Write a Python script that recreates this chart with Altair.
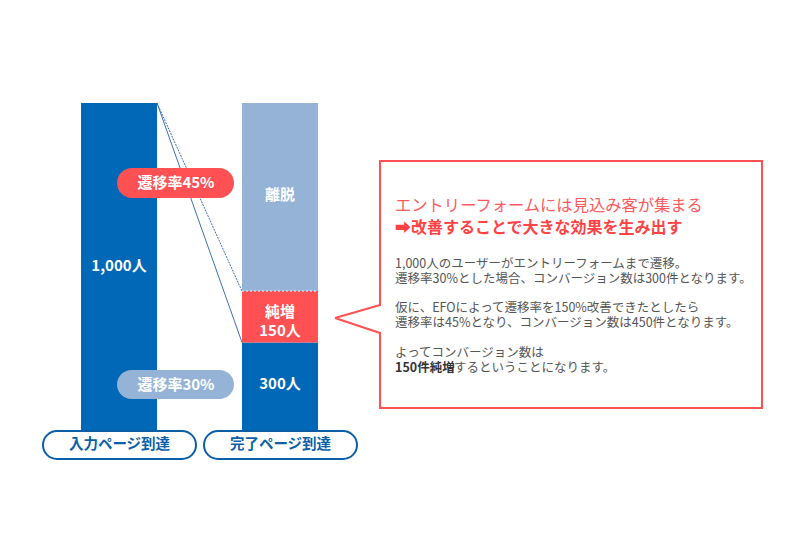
import altair as alt
import pandas as pd

# ---- data ----
categories = ["入力ページ到達", "完了ページ到達"]
segments = ["到達", "純増", "離脱"]
seg_category = ["入力ページ到達", "完了ページ到達", "完了ページ到達", "完了ページ到達"]
seg_name = ["到達", "到達", "純増", "離脱"]
seg_value = [1000, 300, 150, 550]
seg_order = [0, 0, 1, 2]

bar_labels = ["1,000人", "離脱", "純増\n150人", "300人"]
rate_labels = ["遷移率45%", "遷移率30%"]
title_lines = ["エントリーフォームには見込み客が集まる", "➡改善することで大きな効果を生み出す"]
body_lines = [
    "1,000人のユーザーがエントリーフォームまで遷移。",
    "遷移率30%とした場合、コンバージョン数は300件となります。",
    "仮に、EFOによって遷移率を150%改善できたとしたら",
    "遷移率は45%となり、コンバージョン数は450件となります。",
    "よってコンバージョン数は",
]
last_bold = "150件純増"
last_rest = "するということになります。"

DARK = "#0068b7"
LIGHT = "#95b3d7"
RED = "#ff5053"
NAVY = "#0b5fa9"
GRAY = "#555555"
FONT = "Noto Sans CJK JP"

df = pd.DataFrame({"cat": seg_category, "seg": seg_name, "value": seg_value, "ord": seg_order})

xs = alt.X("cat:N", scale=alt.Scale(domain=categories, range=[81, 318], paddingInner=0.528, paddingOuter=0), axis=None)
ysc = alt.Scale(domain=[0, 1000], range=[445, 103])

bars = alt.Chart(df).mark_bar().encode(
    x=xs,
    y=alt.Y("value:Q", stack="zero", scale=ysc, axis=None),
    color=alt.Color("seg:N", scale=alt.Scale(domain=segments, range=[DARK, RED, LIGHT]), legend=None),
    order=alt.Order("ord:Q"),
)

one = alt.Data(values=[{"a": 1}])

def rule(x1, x2, y1, y2, color, width=1.0, dash=None):
    kw = dict(color=color, strokeWidth=width)
    if dash:
        kw["strokeDash"] = dash
    return alt.Chart(one).mark_rule(**kw).encode(x=x1, x2=x2, y=y1, y2=y2)

line_dotted = rule(alt.value(157), alt.value(242), alt.datum(1000), alt.datum(450), "#3f6fae", 1, [2, 1])
line_solid = rule(alt.value(157), alt.value(242), alt.datum(1000), alt.datum(300), "#3f6fae", 1)
boundary = rule(alt.value(242), alt.value(317), alt.datum(450), alt.datum(450), "white", 1, [2, 2])

def rect(x1, x2, y1, y2, **kw):
    return alt.Chart(one).mark_rect(**kw).encode(
        x=alt.value(x1), x2=alt.value(x2), y=alt.value(y1), y2=alt.value(y2))

def text(t, x, y, size, color, weight="normal", align="center", **kw):
    return alt.Chart(one).mark_text(
        text=t, font=FONT, fontSize=size, color=color, fontWeight=weight,
        align=align, baseline="middle", **kw
    ).encode(x=x, y=alt.value(y))

pill45 = rect(117, 234, 168, 198, fill=RED, cornerRadius=15)
pill30 = rect(117, 234, 370, 399, fill=LIGHT, cornerRadius=15)
t45 = text(rate_labels[0], alt.value(176), 183, 15, "white", "bold")
t30 = text(rate_labels[1], alt.value(176), 385, 15, "white", "bold")

bottom1 = rect(43, 196, 431, 459, fill="white", stroke=NAVY, strokeWidth=2, cornerRadius=14)
bottom2 = rect(204, 357, 431, 459, fill="white", stroke=NAVY, strokeWidth=2, cornerRadius=14)
bt1 = text(categories[0], alt.value(119.5), 445, 14.5, NAVY, "bold")
bt2 = text(categories[1], alt.value(280.5), 445, 14.5, NAVY, "bold")

def bar_label(t, cat, y):
    return alt.Chart(alt.Data(values=[{"cat": cat}])).mark_text(
        text=t, font=FONT, fontSize=15, color="white", fontWeight="bold",
        align="center", baseline="middle", lineBreak="\n", lineHeight=19
    ).encode(x=alt.X("cat:N", axis=None), y=alt.value(y))

l1 = bar_label(bar_labels[0], categories[0], 266)
l2 = bar_label(bar_labels[1], categories[1], 195)
l3 = bar_label(bar_labels[2], categories[1], 312)
l4 = bar_label(bar_labels[3], categories[1], 384)

box = rect(380, 762, 161, 408, fill="white", stroke=RED, strokeWidth=2)
gap = rule(alt.value(380), alt.value(380), alt.value(306), alt.value(332), "white", 4)
ptr1 = rule(alt.value(380), alt.value(335), alt.value(305), alt.value(318), RED, 2)
ptr2 = rule(alt.value(335), alt.value(380), alt.value(318), alt.value(333), RED, 2)

tt1 = text(title_lines[0], alt.value(395), 206, 16.3, "#ff5a5d", "normal", "left")
tt2 = text(title_lines[1], alt.value(395), 228, 16, "#ff4245", "bold", "left")
body_y = [264, 279, 308, 323, 353]
body = [text(s, alt.value(395), y, 12.5, GRAY, "normal", "left") for s, y in zip(body_lines, body_y)]
lb = text(last_bold, alt.value(395), 368, 12.5, "#333333", "bold", "left")
lr = text(last_rest, alt.value(454), 368, 12.5, GRAY, "normal", "left")

chart = alt.layer(
    bars, line_dotted, line_solid, boundary,
    pill45, pill30, t45, t30,
    l1, l2, l3, l4,
    bottom1, bottom2, bt1, bt2,
    box, gap, ptr1, ptr2, tt1, tt2, *body, lb, lr,
).properties(
    width=800, height=554, autosize=alt.AutoSizeParams(type="none"), padding=0, background="white"
).configure_view(stroke=None)

chart.save("out.html", embed_options={"renderer": "svg", "actions": False})
